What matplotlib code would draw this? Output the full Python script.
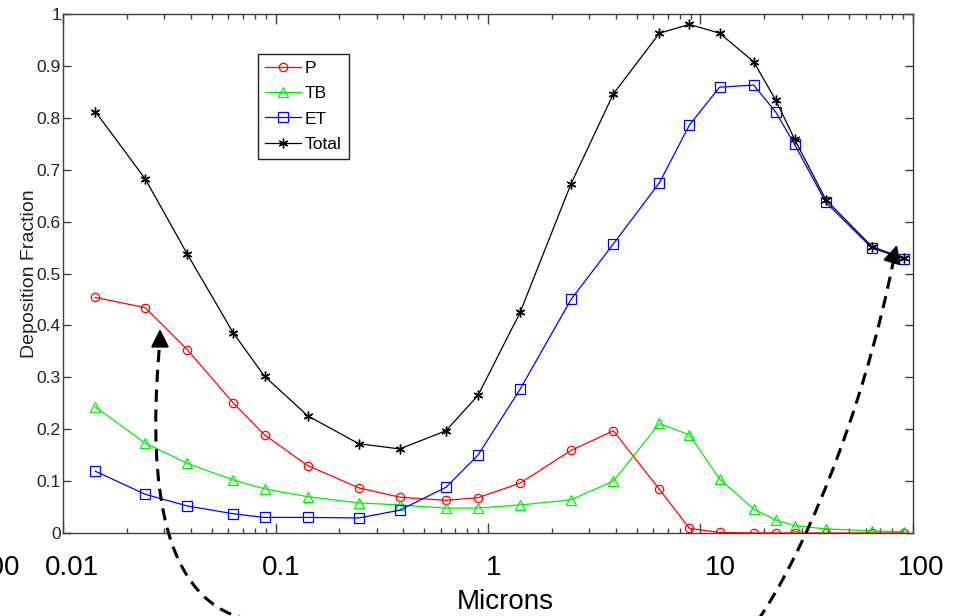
import numpy as np
import matplotlib
matplotlib.use("Agg")
from matplotlib import pyplot as plt
from matplotlib.path import Path
from matplotlib.patches import PathPatch, FancyArrowPatch

# particle size (microns) and deposition fractions
microns = [0.0142, 0.0244, 0.0385, 0.0634, 0.0888, 0.1416, 0.2464, 0.3845,
           0.634, 0.897, 1.416, 2.46, 3.89, 6.41, 8.87, 12.3, 17.8, 22.6,
           27.7, 38.9, 64.1, 90.7]
dep_p = [0.454, 0.434, 0.353, 0.250, 0.189, 0.130, 0.087, 0.069, 0.063, 0.068,
         0.096, 0.159, 0.197, 0.084, 0.009, 0.001, 0.0, 0.0, 0.0, 0.0, 0.0, 0.0]
dep_tb = [0.243, 0.173, 0.134, 0.102, 0.085, 0.070, 0.058, 0.054, 0.048, 0.048,
          0.054, 0.064, 0.100, 0.211, 0.189, 0.104, 0.046, 0.025, 0.014, 0.008,
          0.004, 0.0025]
dep_et = [0.119, 0.0745, 0.052, 0.037, 0.030, 0.030, 0.029, 0.044, 0.088, 0.150,
          0.277, 0.450, 0.557, 0.675, 0.786, 0.859, 0.863, 0.811, 0.749, 0.637,
          0.549, 0.528]
dep_total = [0.812, 0.682, 0.537, 0.385, 0.302, 0.226, 0.172, 0.162, 0.197,
             0.265, 0.425, 0.673, 0.846, 0.963, 0.980, 0.963, 0.908, 0.834,
             0.759, 0.642, 0.552, 0.529]

series_names = ["P", "TB", "ET", "Total"]
y_ticks = [0, 0.1, 0.2, 0.3, 0.4, 0.5, 0.6, 0.7, 0.8, 0.9, 1]
y_tick_labels = ["0", "0.1", "0.2", "0.3", "0.4", "0.5", "0.6", "0.7", "0.8", "0.9", "1"]
big_x_labels = ["100", "0.01", "0.1", "1", "10", "100"]

plt.rcParams['font.family'] = ['Liberation Sans', 'DejaVu Sans']

W, H = 954, 616
fig = plt.figure(figsize=(W / 100, H / 100), dpi=100)
ax = fig.add_axes([63 / W, 83 / H, 850 / W, 519 / H])


def px(x, y):
    # pixel position (from top-left) -> figure fraction
    return (x / W, 1 - y / H)


ax.plot(microns, dep_p, color='#ff0000', lw=0.9, marker='o', ms=6,
        mfc='none', mec='#ff0000', mew=0.9, label=series_names[0])
ax.plot(microns, dep_tb, color='#00ee00', lw=0.9, marker='^', ms=7,
        mfc='none', mec='#00ee00', mew=0.9, label=series_names[1])
ax.plot(microns, dep_et, color='#0000ff', lw=0.9, marker='s', ms=6.5,
        mfc='none', mec='#0000ff', mew=0.9, label=series_names[2])
ax.plot(microns, dep_total, color='#000000', lw=0.9, marker=(6, 2, 0), ms=7,
        mec='#000000', mew=1.0, label=series_names[3])

ax.set_xscale('log')
ax.set_xlim(0.01, 100)
ax.set_ylim(0, 1)
ax.set_yticks(y_ticks)
ax.set_yticklabels(y_tick_labels, fontsize=12.5)
ax.set_xticklabels([])
ax.xaxis.set_minor_formatter(plt.NullFormatter())

axis_col = '#404040'
for s in ['top', 'bottom', 'left', 'right']:
    ax.spines[s].set_color(axis_col)
    ax.spines[s].set_linewidth(1.0)
ax.tick_params(which='both', direction='in', top=True, right=True,
               colors=axis_col, labelcolor='#222222')
ax.tick_params(axis='x', which='major', length=7, width=1)
ax.tick_params(axis='x', which='minor', length=3.5, width=1)
ax.tick_params(axis='y', which='major', length=6, width=1, pad=1.5)

ax.set_ylabel("Deposition Fraction", fontsize=14, labelpad=-1, color='#222222')

leg = ax.legend(loc='upper left', bbox_to_anchor=((258 - 63) / 850, (533 - 54) / 519),
                borderaxespad=0, fontsize=12.5, frameon=True, fancybox=False,
                framealpha=1, edgecolor='#222222', handlelength=2.1,
                handletextpad=0.2, labelspacing=0.58, borderpad=0.4, numpoints=1)
leg.get_frame().set_linewidth(1.0)

# large overlaid axis labels
label_pos = [(20, 'right'), (72, 'center'), (281, 'center'), (494, 'center'),
             (720, 'center'), (921, 'center')]
for txt, (lx, ha) in zip(big_x_labels, label_pos):
    fx, fy = px(lx, 568)
    fig.text(fx, fy, txt, fontsize=20, ha=ha, va='center', color='black')
fx, fy = px(505, 602)
fig.text(fx, fy, "Microns", fontsize=20, ha='center', va='center', color='black')

# dashed curved arrows
dash = (0, (4, 2.5))
left_curve = [px(250, 620), px(150, 600), px(150, 450), px(160, 340)]
right_curve = [px(758, 620), px(800, 560), px(862, 420), px(894, 258)]
for pts in (left_curve, right_curve):
    path = Path(pts, [Path.MOVETO, Path.CURVE4, Path.CURVE4, Path.CURVE4])
    fig.add_artist(PathPatch(path, transform=fig.transFigure, fill=False,
                             lw=2.2, ls=dash, color='black', clip_on=False))

heads = [(px(160, 346), px(160, 329)), (px(892, 262), px(897, 245))]
for a, b in heads:
    fig.add_artist(FancyArrowPatch(a, b, transform=fig.transFigure,
                                   arrowstyle='-|>,head_length=1.1,head_width=0.55',
                                   mutation_scale=10, color='black', lw=1.5,
                                   shrinkA=0, shrinkB=0))

fig.savefig("out.png", dpi=100)
